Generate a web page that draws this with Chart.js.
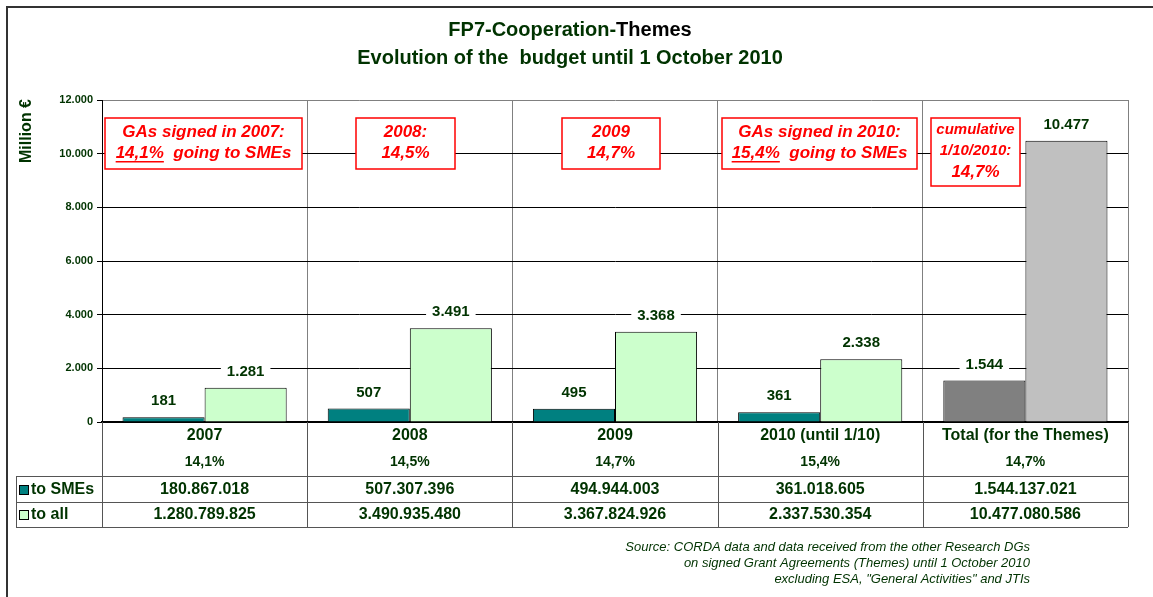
<!DOCTYPE html>
<html>
<head>
<meta charset="utf-8">
<script src="https://cdn.jsdelivr.net/npm/chart.js@4.4.0/dist/chart.umd.min.js"></script>
<style>
body { margin: 0; background: #fff; }
#wrap { position: relative; width: 1153px; height: 597px; }
</style>
</head>
<body>
<div id="wrap"><canvas id="budgetChart"></canvas></div>
<script>
const categories = ['2007', '2008', '2009', '2010 (until 1/10)', 'Total (for the Themes)'];
const smeShare = ['14,1%', '14,5%', '14,7%', '15,4%', '14,7%'];
const toSMEs = [180867018, 507307396, 494944003, 361018605, 1544137021];
const toAll = [1280789825, 3490935480, 3367824926, 2337530354, 10477080586];
const yTicks = [0, 2000, 4000, 6000, 8000, 10000, 12000];
const seriesNames = ['to SMEs', 'to all'];
// red call-out boxes, one per column (first part of a two-part line is underlined)
const notes = [
    [['GAs signed in 2007:'], ['14,1%', '  going to SMEs']],
    [['2008:'], ['14,5%']],
    [['2009'], ['14,7%']],
    [['GAs signed in 2010:'], ['15,4%', '  going to SMEs']],
    [['cumulative'], ['1/10/2010:'], ['14,7%']]
];
const sourceLines = [
    'Source: CORDA data and data received from the other Research DGs',
    'on signed Grant Agreements (Themes) until 1 October 2010',
    'excluding ESA, "General Activities" and JTIs'
];

const FONT = '"Liberation Sans", Arial, sans-serif';
const GREEN = '#003300';

function fmt(n) {
    return String(n).replace(/\B(?=(\d{3})+(?!\d))/g, '.');
}

// box rectangles and line layout for the notes
const noteBoxes = [
    { x: 105, y: 118, w: 197, h: 51, ys: [132, 153], sizes: [17, 17] },
    { x: 356, y: 118, w: 99, h: 51, ys: [132, 153], sizes: [17, 17] },
    { x: 562, y: 118, w: 98, h: 51, ys: [132, 153], sizes: [17, 17] },
    { x: 722, y: 118, w: 195, h: 51, ys: [132, 153], sizes: [17, 17] },
    { x: 931, y: 118, w: 89, h: 68, ys: [130, 151, 172], sizes: [15, 15, 17] }
];

const decor = {
    id: 'decor',
    beforeDraw(chart) {
        const ctx = chart.ctx;
        ctx.save();
        ctx.fillStyle = '#fff';
        ctx.fillRect(0, 0, chart.width, chart.height);
        ctx.restore();
    },
    afterDatasetsDraw(chart) {
        const ctx = chart.ctx;
        ctx.save();
        ctx.font = 'bold 15px ' + FONT;
        ctx.textAlign = 'center';
        ctx.textBaseline = 'middle';
        chart.data.datasets.forEach((ds, i) => {
            chart.getDatasetMeta(i).data.forEach((bar, j) => {
                const txt = fmt(Math.round(ds.data[j]));
                const w = ctx.measureText(txt).width;
                const y = bar.y - 16;
                ctx.fillStyle = '#fff';
                ctx.fillRect(bar.x - w / 2 - 6, y - 9, w + 12, 18);
                ctx.fillStyle = GREEN;
                ctx.fillText(txt, bar.x, y);
            });
        });
        ctx.restore();
    },
    afterDraw(chart) {
        const ctx = chart.ctx;
        const area = chart.chartArea;
        const n = categories.length;
        const colW = (area.right - area.left) / n;
        ctx.save();

        // outer frame
        ctx.strokeStyle = '#333';
        ctx.lineWidth = 2;
        ctx.strokeRect(7, 7, 1300, 800);

        // title
        ctx.textBaseline = 'middle';
        ctx.font = 'bold 20px ' + FONT;
        const t1 = 'FP7-Cooperation-', t2 = 'Themes';
        const w1 = ctx.measureText(t1).width, w2 = ctx.measureText(t2).width;
        let tx = 570 - (w1 + w2) / 2;
        ctx.textAlign = 'left';
        ctx.fillStyle = GREEN;
        ctx.fillText(t1, tx, 30);
        ctx.fillStyle = '#000';
        ctx.fillText(t2, tx + w1, 30);
        ctx.textAlign = 'center';
        ctx.fillStyle = GREEN;
        ctx.fillText('Evolution of the  budget until 1 October 2010', 570, 58);

        // y axis title
        ctx.save();
        ctx.translate(27, 131);
        ctx.rotate(-Math.PI / 2);
        ctx.font = 'bold 16px ' + FONT;
        ctx.fillText('Million €', 0, 0);
        ctx.restore();

        // notes
        notes.forEach((lines, i) => {
            const b = noteBoxes[i];
            ctx.fillStyle = '#fff';
            ctx.fillRect(b.x, b.y, b.w, b.h);
            ctx.strokeStyle = '#ff0000';
            ctx.lineWidth = 1.5;
            ctx.strokeRect(b.x, b.y, b.w, b.h);
            ctx.fillStyle = '#ff0000';
            ctx.textAlign = 'left';
            lines.forEach((parts, k) => {
                ctx.font = 'italic bold ' + b.sizes[k] + 'px ' + FONT;
                const total = parts.reduce((s, p) => s + ctx.measureText(p).width, 0);
                let x = b.x + b.w / 2 - total / 2;
                parts.forEach((p, m) => {
                    const pw = ctx.measureText(p).width;
                    ctx.fillText(p, x, b.ys[k]);
                    if (parts.length > 1 && m === 0) {
                        ctx.fillRect(x, b.ys[k] + 8, pw, 1.5);
                    }
                    x += pw;
                });
            });
        });

        // table under the plot
        const rowTop = 476, rowMid = 502, rowBot = 527;
        ctx.strokeStyle = '#555';
        ctx.lineWidth = 1;
        for (let k = 0; k <= n; k++) {
            const x = Math.round(area.left + k * colW) + 0.5;
            ctx.beginPath();
            ctx.moveTo(x, area.bottom);
            ctx.lineTo(x, rowBot);
            ctx.stroke();
        }
        [rowTop, rowMid, rowBot].forEach(y => {
            ctx.beginPath();
            ctx.moveTo(16, y + 0.5);
            ctx.lineTo(area.right, y + 0.5);
            ctx.stroke();
        });
        ctx.beginPath();
        ctx.moveTo(16.5, rowTop);
        ctx.lineTo(16.5, rowBot);
        ctx.stroke();

        ctx.fillStyle = GREEN;
        ctx.textAlign = 'center';
        categories.forEach((c, k) => {
            const cx = area.left + (k + 0.5) * colW;
            ctx.font = 'bold 16px ' + FONT;
            ctx.fillText(c, cx, 436);
            ctx.font = 'bold 14px ' + FONT;
            ctx.fillText(smeShare[k], cx, 462);
            ctx.font = 'bold 16px ' + FONT;
            ctx.fillText(fmt(toSMEs[k]), cx, 490);
            ctx.fillText(fmt(toAll[k]), cx, 515);
        });

        // row headers with legend swatches
        const swatch = ['#008080', '#ccffcc'];
        [490, 515].forEach((y, r) => {
            ctx.fillStyle = swatch[r];
            ctx.fillRect(19, y - 5, 10, 10);
            ctx.strokeStyle = '#000';
            ctx.strokeRect(19.5, y - 4.5, 9, 9);
            ctx.fillStyle = GREEN;
            ctx.textAlign = 'left';
            ctx.font = 'bold 16px ' + FONT;
            ctx.fillText(seriesNames[r], 31, y);
        });

        // source
        ctx.font = 'italic 13px ' + FONT;
        ctx.textAlign = 'right';
        sourceLines.forEach((s, k) => ctx.fillText(s, 1030, 547 + k * 16));

        ctx.restore();
    }
};

new Chart(document.getElementById('budgetChart'), {
    type: 'bar',
    data: {
        labels: categories,
        datasets: [
            {
                label: seriesNames[0],
                data: toSMEs.map(v => v / 1e6),
                backgroundColor: ctx => ctx.dataIndex === 4 ? '#808080' : '#008080',
                borderColor: '#000',
                borderWidth: 1,
                categoryPercentage: 0.8,
                barPercentage: 1.0
            },
            {
                label: seriesNames[1],
                data: toAll.map(v => v / 1e6),
                backgroundColor: ctx => ctx.dataIndex === 4 ? '#c0c0c0' : '#ccffcc',
                borderColor: '#000',
                borderWidth: 1,
                categoryPercentage: 0.8,
                barPercentage: 1.0
            }
        ]
    },
    options: {
        responsive: true,
        maintainAspectRatio: false,
        animation: false,
        layout: { padding: { top: 100, right: 25, bottom: 175, left: 0 } },
        plugins: {
            legend: { display: false },
            title: { display: false },
            tooltip: { enabled: false }
        },
        scales: {
            x: {
                afterFit: s => { s.height = 0; },
                ticks: { display: false },
                grid: { color: '#808080', offset: true, drawTicks: false },
                border: { color: '#000', width: 2 }
            },
            y: {
                min: 0,
                max: 12000,
                afterFit: s => { s.width = 102; },
                afterBuildTicks: s => { s.ticks = yTicks.map(v => ({ value: v })); },
                ticks: {
                    padding: 4,
                    color: GREEN,
                    font: { family: FONT, size: 11, weight: 'bold' },
                    callback: v => fmt(v)
                },
                grid: {
                    color: c => c.tick && c.tick.value === 12000 ? '#808080' : '#000',
                    tickColor: '#000',
                    tickLength: 5
                },
                border: { color: '#000' }
            }
        }
    },
    plugins: [decor]
});
</script>
</body>
</html>
